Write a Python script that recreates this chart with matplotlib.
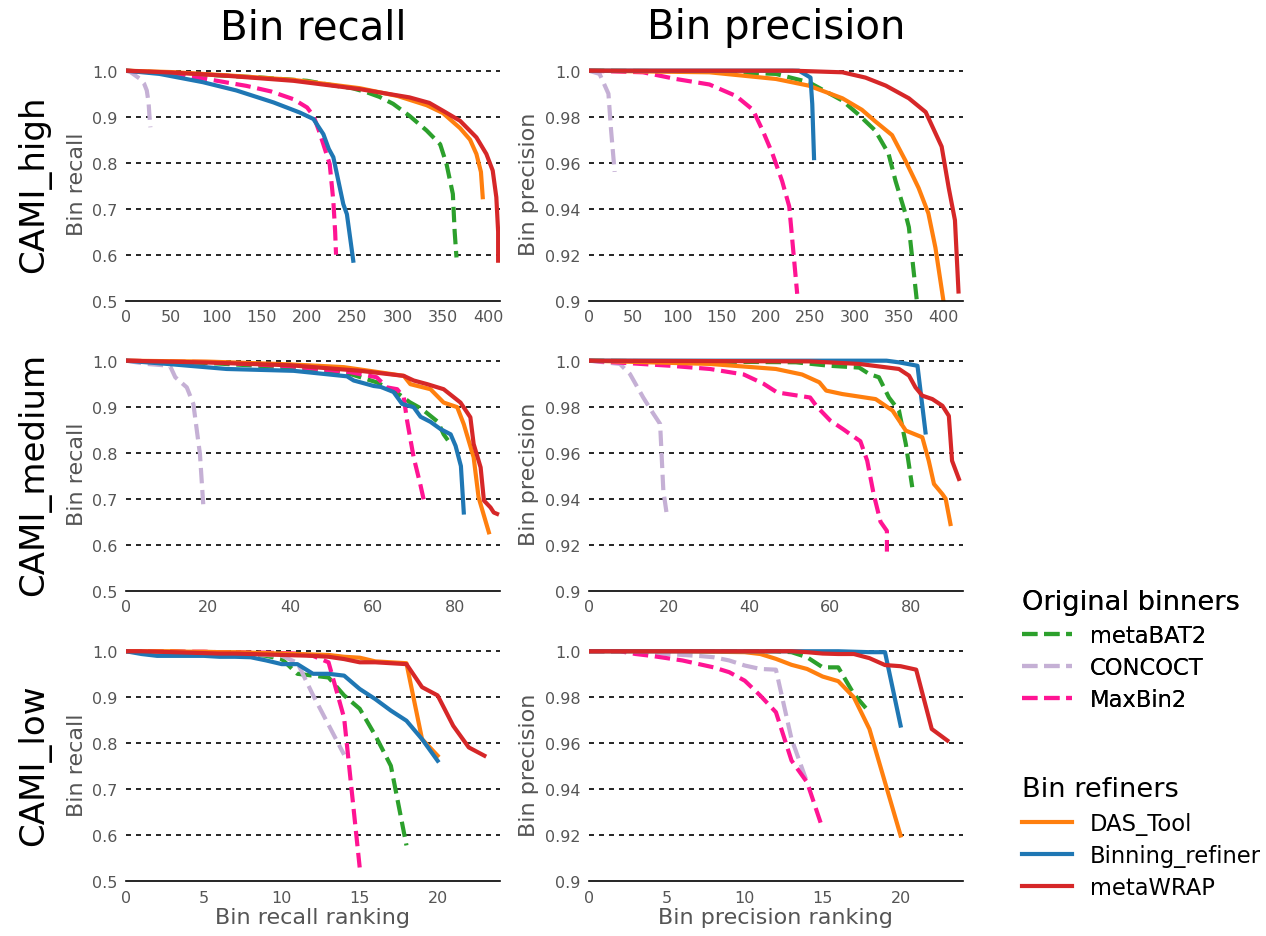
import matplotlib.pyplot as plt
from matplotlib.lines import Line2D

# CAMI_high, recall: (rank, value) points
high_recall = {
    "metaBAT2": ([0, 50, 100, 150, 200, 229, 250, 266, 280, 295, 313, 332, 347, 354, 361, 363, 365],
                 [1.0, 0.995, 0.99, 0.985, 0.978, 0.968, 0.962, 0.953, 0.943, 0.928, 0.902, 0.87, 0.84, 0.797, 0.732, 0.65, 0.594]),
    "CONCOCT": ([0, 5, 10, 15, 20, 23, 25, 26, 27],
                [1.0, 0.997, 0.99, 0.983, 0.972, 0.957, 0.93, 0.9, 0.877]),
    "MaxBin2": ([0, 40, 89, 133, 160, 185, 200, 207, 213, 218, 225, 229, 231, 232],
                [1.0, 0.995, 0.982, 0.967, 0.955, 0.938, 0.92, 0.902, 0.87, 0.84, 0.797, 0.717, 0.65, 0.6]),
    "DAS_Tool": ([0, 50, 111, 185, 258, 300, 332, 350, 369, 380, 387, 392, 394],
                 [1.0, 0.997, 0.99, 0.98, 0.962, 0.945, 0.925, 0.908, 0.875, 0.85, 0.819, 0.78, 0.725]),
    "Binning_refiner": ([0, 37, 85, 122, 163, 192, 207, 218, 224, 229, 233, 240, 244, 251],
                        [1.0, 0.993, 0.975, 0.957, 0.931, 0.909, 0.895, 0.862, 0.83, 0.812, 0.775, 0.71, 0.688, 0.587]),
    "metaWRAP": ([0, 50, 111, 185, 258, 313, 335, 350, 369, 387, 398, 405, 409, 411, 411],
                 [1.0, 0.996, 0.989, 0.978, 0.96, 0.942, 0.93, 0.913, 0.891, 0.855, 0.819, 0.783, 0.725, 0.65, 0.587]),
}

# CAMI_high, precision
high_precision = {
    "metaBAT2": ([0, 136, 211, 248, 267, 286, 304, 323, 338, 346, 357, 361, 370],
                 [1.0, 0.9997, 0.9986, 0.995, 0.991, 0.987, 0.981, 0.974, 0.964, 0.952, 0.938, 0.932, 0.9]),
    "CONCOCT": ([0, 12, 22, 25, 29],
                [1.0, 0.9986, 0.99, 0.974, 0.956]),
    "MaxBin2": ([0, 61, 98, 136, 166, 185, 196, 207, 218, 226, 235],
                [1.0, 0.9993, 0.9964, 0.994, 0.989, 0.983, 0.974, 0.964, 0.952, 0.941, 0.903]),
    "DAS_Tool": ([0, 136, 211, 248, 286, 308, 323, 342, 357, 372, 383, 391, 400],
                 [1.0, 0.9993, 0.9964, 0.9935, 0.988, 0.983, 0.978, 0.972, 0.961, 0.949, 0.938, 0.923, 0.9]),
    "Binning_refiner": ([0, 237, 250, 252, 254],
                        [1.0, 1.0, 0.997, 0.9855, 0.962]),
    "metaWRAP": ([0, 230, 286, 312, 335, 361, 380, 398, 406, 413, 417],
                 [1.0, 1.0, 0.9993, 0.997, 0.9935, 0.988, 0.982, 0.967, 0.949, 0.935, 0.904]),
}

# CAMI_medium, recall
medium_recall = {
    "metaBAT2": ([0, 20, 40, 54.6, 61, 66, 69, 72, 73.4, 75.9, 77.3, 78.5],
                 [1.0, 0.995, 0.985, 0.971, 0.953, 0.93, 0.91, 0.895, 0.885, 0.867, 0.84, 0.825]),
    "CONCOCT": ([0, 5, 10.7, 12, 14.8, 16.4, 18, 18.8],
                [1.0, 0.993, 0.989, 0.964, 0.942, 0.906, 0.797, 0.688]),
    "MaxBin2": ([0, 20, 40, 54.6, 61, 63.5, 66, 67.6, 68.4, 70, 71.6, 72.5],
                [1.0, 0.997, 0.988, 0.975, 0.964, 0.942, 0.938, 0.92, 0.87, 0.79, 0.732, 0.696]),
    "DAS_Tool": ([0, 20, 40, 53, 60, 67.6, 69.2, 74.1, 77.3, 80.6, 82.2, 84.6, 85.8, 88.3],
                 [1.0, 0.998, 0.992, 0.986, 0.977, 0.967, 0.949, 0.938, 0.909, 0.899, 0.862, 0.79, 0.703, 0.627]),
    "Binning_refiner": ([0, 10, 24.5, 40.8, 53.8, 55.4, 60.3, 62, 65.1, 67.2, 70, 71.7, 74.1, 76.6, 79, 80.2, 81.5, 82.2],
                        [1.0, 0.993, 0.982, 0.978, 0.966, 0.957, 0.945, 0.943, 0.932, 0.906, 0.899, 0.878, 0.867, 0.851, 0.84, 0.815, 0.771, 0.67]),
    "metaWRAP": ([0, 20, 40, 57, 67.6, 70, 73.3, 77.3, 81.4, 83.8, 84.6, 86.3, 87.1, 88.7, 89.5, 90.3],
                 [1.0, 0.996, 0.99, 0.978, 0.967, 0.957, 0.949, 0.938, 0.909, 0.877, 0.819, 0.768, 0.696, 0.681, 0.67, 0.667]),
}

# CAMI_medium, precision
medium_precision = {
    "metaBAT2": ([0, 51.5, 59.8, 67.2, 69.7, 72.1, 74.6, 77.1, 78.8, 80.4],
                 [1.0, 0.9993, 0.9978, 0.997, 0.9942, 0.9928, 0.984, 0.9783, 0.9638, 0.945]),
    "CONCOCT": ([0, 7.7, 10.2, 13.5, 16, 17.7, 18.5, 19.4],
                [1.0, 0.9986, 0.9942, 0.984, 0.977, 0.9725, 0.9435, 0.9326]),
    "MaxBin2": ([0, 20.2, 30.1, 38.5, 43.4, 46.8, 55, 56.7, 60, 63.4, 65, 67.5, 69.2, 70.8, 72.5, 74.1, 74.1],
                [1.0, 0.9978, 0.9964, 0.994, 0.99, 0.9862, 0.984, 0.98, 0.974, 0.97, 0.968, 0.965, 0.9565, 0.942, 0.93, 0.926, 0.917]),
    "DAS_Tool": ([0, 30, 46.5, 53, 57.3, 59, 63, 71.3, 75.5, 78.8, 82.9, 84.5, 85.8, 87.9, 88.7, 89.9],
                 [1.0, 0.9986, 0.9964, 0.994, 0.9906, 0.987, 0.9855, 0.9833, 0.9783, 0.9696, 0.9667, 0.9565, 0.9464, 0.942, 0.94, 0.929]),
    "Binning_refiner": ([0, 74, 77, 81.7, 83.7],
                        [1.0, 1.0, 0.9993, 0.9978, 0.9688]),
    "metaWRAP": ([0, 54.8, 67.2, 77.1, 79.6, 81.2, 82.9, 85.4, 87.9, 89.5, 90.3, 92],
                 [1.0, 0.9997, 0.9986, 0.9964, 0.9935, 0.9884, 0.9848, 0.9833, 0.9804, 0.976, 0.9565, 0.9486]),
}

# CAMI_low: one value per bin, rank 0, 1, 2, ...
low_recall = {
    "metaBAT2": [1.0, 1.0, 1.0, 0.999, 0.998, 0.997, 0.996, 0.995, 0.994, 0.99, 0.983, 0.951, 0.947,
                 0.943, 0.904, 0.875, 0.817, 0.751, 0.578],
    "CONCOCT": [1.0, 1.0, 1.0, 0.999, 0.998, 0.997, 0.996, 0.995, 0.994, 0.992, 0.99, 0.975, 0.905,
                0.84, 0.775],
    "MaxBin2": [1.0, 1.0, 1.0, 1.0, 0.999, 0.999, 0.998, 0.998, 0.997, 0.997, 0.996, 0.995, 0.99,
                0.976, 0.855, 0.53],
    "DAS_Tool": [1.0, 1.0, 1.0, 1.0, 0.999, 0.999, 0.998, 0.998, 0.997, 0.996, 0.995, 0.994, 0.993,
                 0.992, 0.988, 0.986, 0.978, 0.976, 0.974, 0.809, 0.773],
    "Binning_refiner": [1.0, 0.994, 0.99, 0.99, 0.99, 0.99, 0.988, 0.988, 0.987, 0.98, 0.972, 0.972,
                        0.951, 0.951, 0.947, 0.918, 0.896, 0.871, 0.849, 0.809, 0.762],
    "metaWRAP": [1.0, 1.0, 0.999, 0.998, 0.997, 0.996, 0.995, 0.995, 0.994, 0.993, 0.992, 0.991, 0.99,
                 0.988, 0.983, 0.976, 0.976, 0.974, 0.972, 0.922, 0.904, 0.838, 0.791, 0.773],
}

low_precision = {
    "metaBAT2": [1.0, 1.0, 1.0, 1.0, 1.0, 1.0, 1.0, 1.0, 1.0, 1.0, 1.0, 1.0, 1.0, 0.9996, 0.9974,
                 0.993, 0.993, 0.9814, 0.9735],
    "CONCOCT": [1.0, 1.0, 1.0, 0.9998, 0.9994, 0.9988, 0.9984, 0.998, 0.9974, 0.996, 0.9938, 0.9923,
                0.992, 0.9619, 0.943],
    "MaxBin2": [1.0, 1.0, 1.0, 0.9988, 0.998, 0.997, 0.996, 0.9945, 0.993, 0.9909, 0.9872, 0.9807,
                0.9735, 0.9525, 0.943, 0.9228],
    "DAS_Tool": [1.0, 1.0, 1.0, 1.0, 1.0, 1.0, 1.0, 0.9999, 0.9998, 0.9997, 0.9996, 0.9988, 0.9967,
                 0.9941, 0.9923, 0.989, 0.987, 0.98, 0.9662, 0.943, 0.9199],
    "Binning_refiner": [1.0, 1.0, 1.0, 1.0, 1.0, 1.0, 1.0, 1.0, 1.0, 1.0, 1.0, 1.0, 1.0, 1.0, 1.0,
                        1.0, 1.0, 0.9998, 0.9996, 0.9996, 0.9677],
    "metaWRAP": [1.0, 1.0, 1.0, 1.0, 1.0, 1.0, 1.0, 1.0, 1.0, 1.0, 1.0, 1.0, 1.0, 1.0, 0.9996, 0.999,
                 0.9988, 0.9988, 0.997, 0.994, 0.9935, 0.992, 0.9662, 0.9612],
}

recall_ticks = [0.5, 0.6, 0.7, 0.8, 0.9, 1.0]
recall_ticklabels = ["0.5", "0.6", "0.7", "0.8", "0.9", "1.0"]
precision_ticks = [0.9, 0.92, 0.94, 0.96, 0.98, 1.0]
precision_ticklabels = ["0.9", "0.92", "0.94", "0.96", "0.98", "1.0"]
rank_ticks = [[0, 50, 100, 150, 200, 250, 300, 350, 400],
              [0, 20, 40, 60, 80],
              [0, 5, 10, 15, 20]]

binners = ["metaBAT2", "CONCOCT", "MaxBin2"]
refiners = ["DAS_Tool", "Binning_refiner", "metaWRAP"]
colors = {"metaBAT2": "#2ca02c", "CONCOCT": "#c5b0d5", "MaxBin2": "#ff1493",
          "DAS_Tool": "#ff7f0e", "Binning_refiner": "#1f77b4", "metaWRAP": "#d62728"}
grey = "#555555"

fig = plt.figure(figsize=(12.66, 9.37), dpi=100)

rows = [("CAMI_high", high_recall, high_precision, 0.678, (413, 422)),
        ("CAMI_medium", medium_recall, medium_precision, 0.3685, (91, 93)),
        ("CAMI_low", low_recall, low_precision, 0.0584, (24, 24))]
col_left = [0.0995, 0.4652]
ax_w, ax_h = 0.2954, 0.2504

for r, (name, rec, prec, bottom, xmax) in enumerate(rows):
    for c, data in enumerate([rec, prec]):
        ax = fig.add_axes([col_left[c], bottom, ax_w, ax_h])
        if c == 0:
            ylo, ticks, tlabels, ylab = 0.5, recall_ticks, recall_ticklabels, "Bin recall"
            ytop = 1.0 + 0.5 * 0.02
        else:
            ylo, ticks, tlabels, ylab = 0.9, precision_ticks, precision_ticklabels, "Bin precision"
            ytop = 1.0 + 0.1 * 0.02
        for g in ticks[1:]:
            ax.axhline(g, color="black", lw=1.2, ls=(0, (3, 3)), zorder=0)
        for tool in binners + refiners:
            if isinstance(data[tool], tuple):
                xs, ys = data[tool]
            else:
                ys = data[tool]
                xs = list(range(len(ys)))
            ls = "--" if tool in binners else "-"
            ax.plot(xs, ys, ls=ls, color=colors[tool], lw=3, label=tool)
        ax.set_xlim(0, xmax[c])
        ax.set_xticks(rank_ticks[r])
        ax.set_ylim(ylo, ytop)
        ax.set_yticks(ticks)
        ax.set_yticklabels(tlabels)
        for s in ["top", "right", "left"]:
            ax.spines[s].set_visible(False)
        ax.spines["bottom"].set_color("black")
        ax.spines["bottom"].set_linewidth(1.2)
        ax.tick_params(length=0, labelsize=11.5, labelcolor=grey, pad=6)
        ax.set_ylabel(ylab, fontsize=16, color=grey, labelpad=4)
        if r == 2:
            ax.set_xlabel("Bin recall ranking" if c == 0 else "Bin precision ranking",
                          fontsize=16, color=grey, labelpad=2)
        if r == 0:
            ax.set_title("Bin recall" if c == 0 else "Bin precision", fontsize=29, pad=20)
        if c == 0:
            ax.text(-0.246, 0.5, name, transform=ax.transAxes, rotation=90,
                    fontsize=24.5, va="center", ha="center")

h1 = [Line2D([], [], color=colors[t], ls="--", lw=3) for t in binners]
h2 = [Line2D([], [], color=colors[t], ls="-", lw=3) for t in refiners]
leg1 = fig.legend(h1, binners, title="Original binners", loc="upper left",
                  bbox_to_anchor=(0.791, 0.392), frameon=False, fontsize=16.3,
                  title_fontsize=19.6, alignment="left", handlelength=2.2,
                  handletextpad=0.8, labelspacing=0.4)
fig.legend(h2, refiners, title="Bin refiners", loc="upper left",
           bbox_to_anchor=(0.791, 0.192), frameon=False, fontsize=16.3,
           title_fontsize=19.6, alignment="left", handlelength=2.2,
           handletextpad=0.8, labelspacing=0.4)
fig.add_artist(leg1)

fig.savefig("out.png", dpi=100)
